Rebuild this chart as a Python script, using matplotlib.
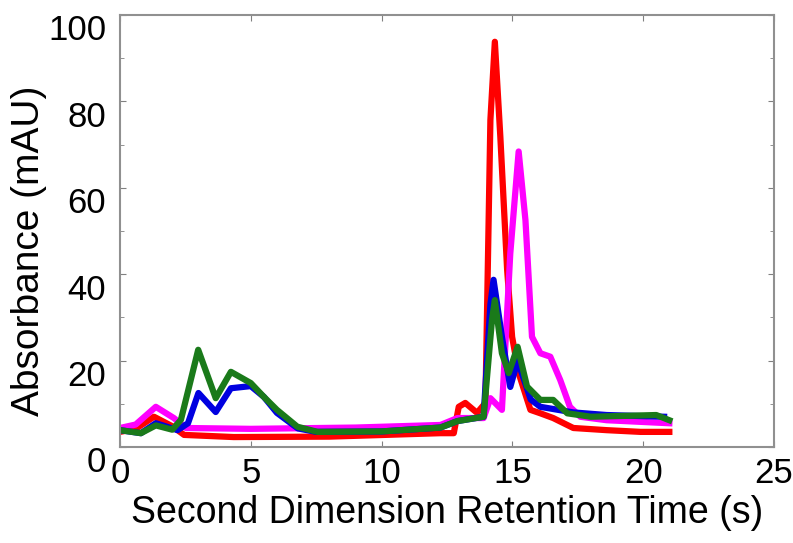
import matplotlib
matplotlib.use("Agg")
import matplotlib.pyplot as plt
from matplotlib.ticker import MultipleLocator
from matplotlib.transforms import ScaledTranslation

plt.rcParams["font.family"] = ["Liberation Sans", "DejaVu Sans"]

# retention time (s) / absorbance (mAU)
red_t = [0, 0.6, 1.3, 2.0, 2.45, 4.35, 8.0, 12.25, 12.76, 12.95, 13.2, 13.65, 13.97,
         14.16, 14.33, 14.54, 14.8, 14.99, 15.24, 15.69, 16.07, 16.56, 17.33, 18.6, 19.9, 21.0]
red_v = [3.5, 4.2, 7.0, 4.8, 2.8, 2.3, 2.4, 3.2, 3.2, 9.3, 10.2, 7.9, 10.2,
         75.7, 93.8, 71.8, 41.0, 25.5, 17.1, 8.6, 7.8, 6.7, 4.4, 3.9, 3.5, 3.5]

mag_t = [0, 0.6, 1.37, 2.06, 2.52, 5.0, 9.0, 12.25, 12.9, 13.9, 14.16, 14.6, 14.92,
         15.24, 15.5, 15.75, 16.07, 16.45, 16.83, 17.2, 17.6, 18.6, 21.0]
mag_v = [4.4, 5.2, 9.3, 6.7, 4.4, 4.2, 4.5, 5.1, 6.7, 6.7, 11.3, 8.6, 44.8,
         68.4, 52.5, 25.5, 21.7, 20.9, 15.5, 9.3, 7.0, 6.2, 5.5]

blue_t = [0, 0.8, 1.37, 2.2, 2.6, 3.0, 3.66, 4.24, 5.0, 5.5, 6.0, 6.8, 7.5, 10.0,
          12.25, 12.9, 13.9, 14.16, 14.28, 14.6, 14.92, 15.2, 15.7, 16.07, 17.33, 18.6, 20.8]
blue_v = [3.9, 3.2, 5.5, 3.9, 5.5, 12.5, 8.1, 13.6, 14.1, 11.6, 7.9, 4.3, 3.5, 3.6,
          4.5, 6.0, 7.0, 33.0, 38.7, 25.5, 13.9, 20.0, 11.0, 9.3, 8.0, 7.4, 7.0]

green_t = [0, 0.8, 1.37, 2.0, 2.33, 2.99, 3.66, 4.24, 5.0, 5.5, 6.0, 6.78, 7.55, 10.0,
           12.25, 12.9, 13.9, 14.22, 14.33, 14.6, 14.86, 15.2, 15.56, 16.07, 16.56,
           17.1, 18.0, 20.5, 21.0]
green_v = [3.9, 3.2, 5.0, 4.0, 6.3, 22.5, 11.3, 17.4, 14.8, 11.6, 8.6, 4.7, 3.5, 3.6,
           4.5, 6.0, 7.0, 29.4, 34.0, 21.7, 17.1, 23.2, 14.0, 10.9, 10.9,
           7.8, 7.0, 7.4, 6.2]

x_ticks = [0, 5, 10, 15, 20, 25]
y_ticks = [0, 20, 40, 60, 80, 100]

fig = plt.figure(figsize=(7.93, 5.43), dpi=100)
ax = fig.add_axes([0.1513, 0.1768, 0.8247, 0.7956])

LW = 4.5
ax.plot(red_t, red_v, color="#ff0000", lw=LW, solid_joinstyle="round")
ax.plot(mag_t, mag_v, color="#ff00ff", lw=LW, solid_joinstyle="round")
ax.plot(blue_t, blue_v, color="#0000e0", lw=LW, solid_joinstyle="round")
ax.plot(green_t, green_v, color="#1a7a1a", lw=LW, solid_joinstyle="round")

ax.set_xlim(0, 25)
ax.set_ylim(0, 100)
ax.set_xticks(x_ticks)
ax.set_yticks(y_ticks)
ax.yaxis.set_minor_locator(MultipleLocator(10))
ax.tick_params(which="both", direction="in", top=True, right=True,
               color="#808080", labelsize=25)
ax.tick_params(which="major", length=4)
ax.tick_params(which="minor", length=3)
ax.tick_params(axis="x", pad=7)
ax.tick_params(axis="y", pad=10)
for sp in ax.spines.values():
    sp.set_color("#909090")
    sp.set_linewidth(1.5)

# y tick labels sit a little lower than their ticks in the original
shift = ScaledTranslation(0, -9 / 72, fig.dpi_scale_trans)
for lbl in ax.get_yticklabels():
    lbl.set_transform(lbl.get_transform() + shift)

ax.set_xlabel("Second Dimension Retention Time (s)", fontsize=27, labelpad=4)
ax.set_ylabel("Absorbance (mAU)", fontsize=28)
ax.yaxis.set_label_coords(-0.112, 0.454)

fig.savefig("out.png", dpi=100, facecolor="white")
